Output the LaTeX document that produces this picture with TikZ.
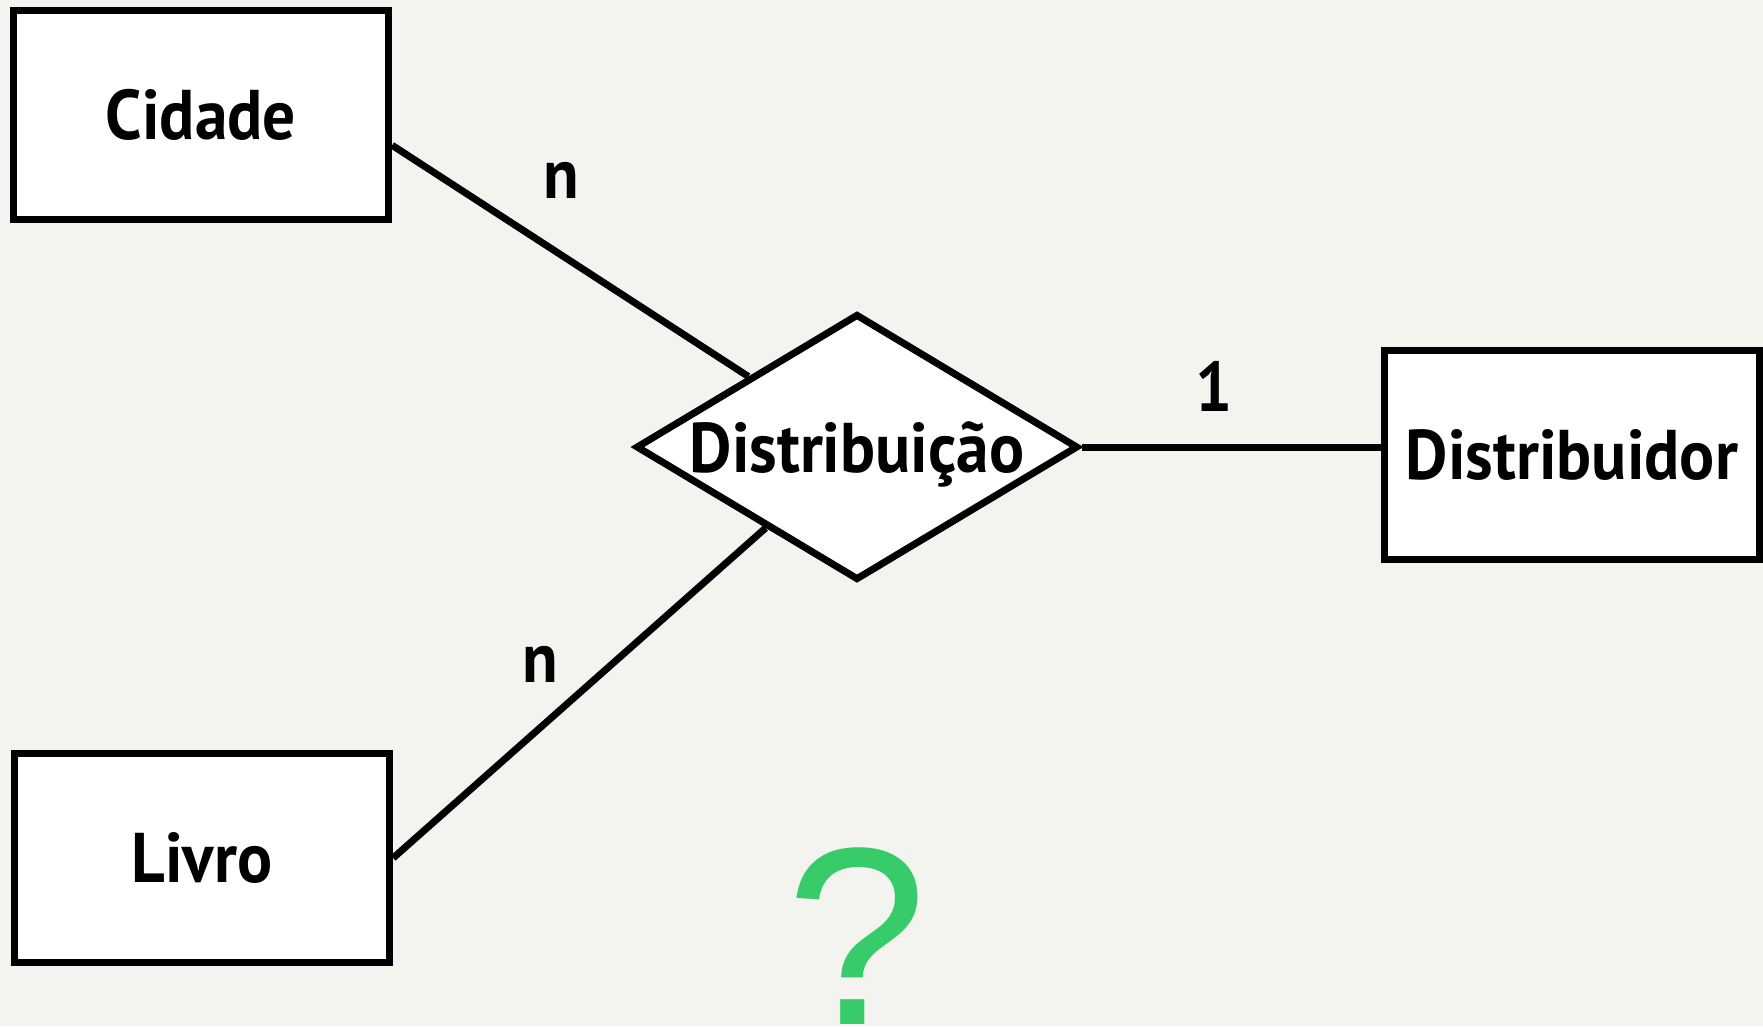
\documentclass[tikz,border=0pt]{standalone}
\usepackage{fontspec}
\setmainfont[FakeStretch = 0.93]{PT Sans}
\newfontfamily\interrogfont{Liberation Sans}
\usetikzlibrary{shapes.geometric}
\definecolor{fundo}{HTML}{F3F4F0}
\definecolor{verde}{HTML}{37CB6A}

\begin{document}
\begin{tikzpicture}[x = 0.01cm, y = -0.01cm]
\tikzstyle{Entidade}=[shape = rectangle, draw, fill = white,
                      line width = 2pt,
                      minimum width = 3.75cm,
                      minimum height = 2.09cm,
                      font = \bfseries\fontsize{20}{24}\selectfont]
\tikzstyle{Relacao}=[shape = diamond, draw, fill = white,
                     line width = 2pt, inner sep = 0pt,
                     aspect = 1.65, text depth = 0pt,
                     minimum width = 4.42cm,
                     minimum height = 2.66cm,
                     font = \bfseries\fontsize{20}{24}\selectfont]
\tikzstyle{Card}=[inner sep = 0pt, font = \bfseries\fontsize{20}{24}\selectfont]
\tikzstyle{Liga}=[line width = 2pt]
\fill[fundo] (0,0) rectangle (1763,1026);
\useasboundingbox (0,0) rectangle (1763,1026);
\node[Entidade] (cidade) at (201,115) {Cidade};
\node[Entidade] (livro) at (202,858) {Livro};
\node[Entidade] (distribuidor) at (1572,455) {Distribuidor};
\node[Relacao] (distribuicao) at (857,447) {Distribuição};
\draw[Liga] (cidade.-9) -- (distribuicao);
\draw[Liga] (livro.east) -- (distribuicao);
\draw[Liga] (distribuicao.east) -- (distribuicao.east -| distribuidor.west);
\node[Card] (n1) at (561,180) {n};
\node[Card] (n2) at (540,664) {n};
\node[Card] (um) at (1214,386) {1};
\node[anchor = base, inner sep = 0pt, text = verde,
      font = \interrogfont\fontsize{72}{72}\selectfont] (interrog) at (857,1024) {?};
\end{tikzpicture}
\end{document}
